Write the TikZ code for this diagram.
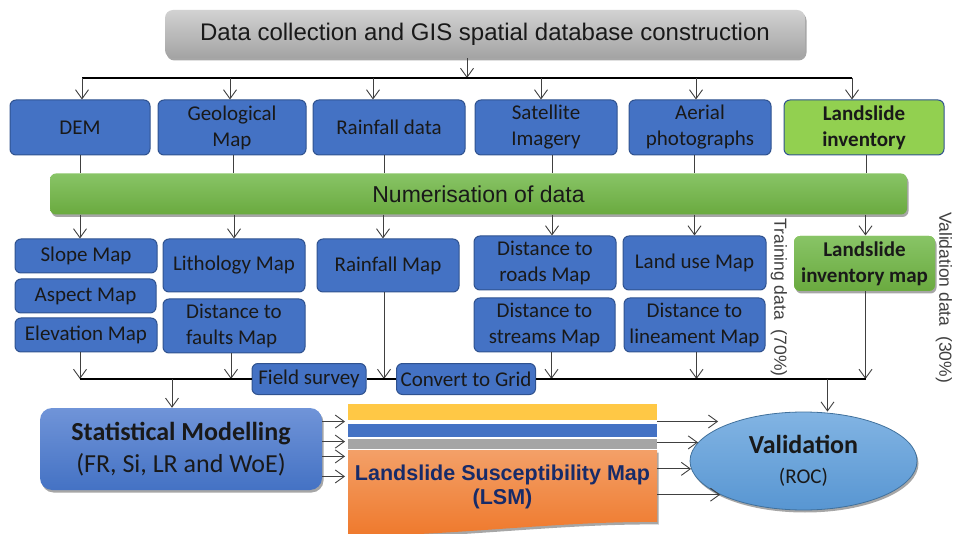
\documentclass[tikz,border=0pt]{standalone}
\usepackage{fontspec}
\setmainfont{Carlito}
\newfontfamily\arialfont{Liberation Sans}
\usetikzlibrary{arrows.meta,shapes.geometric,shadows,positioning}

\definecolor{boxblue}{HTML}{4472C4}
\definecolor{boxedge}{HTML}{2F528F}
\definecolor{stattop}{HTML}{7094D8}
\definecolor{bargreen}{HTML}{6AAA3F}
\definecolor{bargreenlt}{HTML}{88C466}
\definecolor{invgreen}{HTML}{92D050}
\definecolor{hdrgray}{HTML}{A3A3A3}
\definecolor{hdrgraylt}{HTML}{D2D2D2}
\definecolor{ylw}{HTML}{FFC845}
\definecolor{midgray}{HTML}{A5A5A5}
\definecolor{lsmtop}{HTML}{F3A068}
\definecolor{lsmbot}{HTML}{EF792C}
\definecolor{lsmtext}{HTML}{172B69}
\definecolor{valtop}{HTML}{82B4E3}
\definecolor{valbot}{HTML}{5896D2}
\definecolor{valedge}{HTML}{41719C}

\begin{document}
\begin{tikzpicture}[x=1pt, y=-1pt,
  wh/.style 2 args={minimum width=#1pt, minimum height=#2pt},
  shd/.style={drop shadow={shadow xshift=1.5pt, shadow yshift=-2.5pt, fill=black, opacity=0.35}},
  box/.style={draw=boxedge, line width=1pt, fill=boxblue, rounded corners=6pt, align=center,
    inner sep=1pt, text=black!90, font=\fontsize{21}{26}\selectfont},
  invbox/.style={box, fill=invgreen, font=\fontsize{21}{26}\selectfont\bfseries},
  limbox/.style={invbox, draw=none, top color=bargreenlt, bottom color=bargreen, shd},
  hdr/.style={rounded corners=8pt, top color=hdrgraylt, bottom color=hdrgray, shd,
    text=black!90, font=\arialfont\fontsize{24}{28}\selectfont},
  numbar/.style={rounded corners=6pt, top color=bargreenlt, bottom color=bargreen, shd,
    text=black!90, font=\arialfont\fontsize{23}{27}\selectfont},
  statbox/.style={rounded corners=12pt, top color=stattop, bottom color=boxblue, shd, align=center,
    text=black!90, font=\fontsize{26}{32}\selectfont},
  strip/.style={inner sep=0pt, outer sep=0pt},
  valnode/.style={ellipse, draw=valedge, line width=0.8pt, top color=valtop, bottom color=valbot, shd,
    align=center, inner sep=1pt, text=black!90, font=\fontsize{26}{30}\selectfont},
  sidelbl/.style={text=black!75, font=\arialfont\fontsize{17.5}{20}\selectfont},
  arr/.style={draw=black!75, line width=0.9pt, -{Straight Barb[length=9pt,width=13pt]}},
  ln/.style={draw=black!75, line width=0.9pt},
  bus/.style={draw=black, line width=1.6pt}]
\useasboundingbox (0,0) rectangle (958,534);

\node[hdr, wh={640}{48}] (hdr) at (485,34) {Data collection and GIS spatial database construction};

\node[box, wh={140}{55}] (dem) at (80,127.5) {DEM};
\node[box, wh={148}{55}] (geo) at (232,127.5) {Geological\\Map};
\node[box, wh={152}{55}] (rain) at (389,127.5) {Rainfall data};
\node[box, wh={142}{55}] (sat) at (546,127.5) {Satellite\\Imagery};
\node[box, wh={142}{55}] (aer) at (700,127.5) {Aerial\\photographs};
\node[invbox, wh={160}{55}] (inv) at (864,127.5) {Landslide\\inventory};

\node[numbar, wh={857}{41}] (num) at (478.5,194) {Numerisation of data};

\node[box, wh={142}{34}] (slope) at (86,256) {Slope Map};
\node[box, wh={141}{34}] (aspect) at (85.5,296) {Aspect Map};
\node[box, wh={142}{34}] (elev) at (86,335) {Elevation Map};
\node[box, wh={142}{53}] (litho) at (234,265.5) {Lithology Map};
\node[box, wh={142}{54}, align=left] (faults) at (234,326) {Distance to\\faults Map};
\node[box, wh={142}{53}] (rmap) at (388,265.5) {Rainfall Map};
\node[box, wh={142}{54}] (roads) at (545,263) {Distance to\\roads Map};
\node[box, wh={141}{54}] (streams) at (544.5,325) {Distance to\\streams Map};
\node[box, wh={143}{54}] (luse) at (694.5,263) {Land use Map};
\node[box, wh={141}{54}] (lineam) at (694.5,325) {Distance to\\lineament Map};
\node[limbox, wh={141}{55}] (lim) at (864.5,263.5) {Landslide\\inventory map};

\node[sidelbl, rotate=-90] (train) at (779,297.5) {Training data \ (70\%)};
\node[sidelbl, rotate=-90] (valid) at (944,297.5) {Validation data \ (30\%)};

\node[box, wh={114}{31}] (field) at (309,379) {Field survey};
\node[box, wh={139}{31}] (conv) at (466,379) {Convert to Grid};

\node[statbox, wh={282}{82}] (stat) at (181,449) {\textbf{Statistical Modelling}\\(FR, Si, LR and WoE)};

\node[strip, fill=ylw, wh={309}{16}] (ylwbar) at (502.5,412) {};
\node[strip, fill=boxblue, wh={309}{13}] (bluebar) at (502.5,430) {};
\node[strip, fill=midgray, wh={309}{10}] (graybar) at (502.5,444) {};
\path[shd, top color=lsmtop, bottom color=lsmbot]
  (348,450) -- (657,450) -- (657,522) .. controls (560,521) and (450,536) .. (348,536) -- cycle;
\node[align=center, text=lsmtext, font=\arialfont\bfseries\fontsize{21.5}{24}\selectfont]
  (lsm) at (502.5,486.5) {Landslide Susceptibility Map\\(LSM)};

\node[valnode, wh={227}{98}] (val) at (803.5,461) {\textbf{Validation}\\{\fontsize{21}{30}\selectfont(ROC)}};

\coordinate (busA) at (467,78);
\coordinate (busB) at (80,379);
\coordinate (busC) at (866,379);

\draw[arr] (hdr.south -| busA) -- (busA);
\draw[bus] ([xshift=2pt]dem.north |- busA) -- ([xshift=-12pt]inv.north |- busA);
\foreach \n/\d in {dem/2,geo/-2,rain/-16,sat/-5,aer/-4,inv/-12}
  \draw[arr] ([xshift=\d pt]\n.north |- busA) -- ([xshift=\d pt]\n.north);

\foreach \n/\d in {dem/0,geo/1,rain/-5,sat/6,aer/-6,inv/2}
  \draw[ln] ([xshift=\d pt]\n.south) -- ([xshift=\d pt]\n.south |- num.north);
\foreach \n/\d in {slope/-6,litho/0,rmap/-5,roads/7,luse/0,lim/1}
  \draw[arr] ([xshift=\d pt]\n.north |- num.south) -- ([xshift=\d pt]\n.north);

\foreach \n/\d in {elev/-6,faults/-3,rmap/-4,streams/7,lineam/2,lim/1}
  \draw[arr] ([xshift=\d pt]\n.south) -- ([xshift=\d pt]\n.south |- busB);
\draw[bus, line width=1.3pt] (busB) -- (field);
\draw[bus, line width=1.3pt] (field) -- (conv);
\draw[bus, line width=1.3pt] (conv) -- (busC);

\draw[arr] ([xshift=-9pt]stat.north |- busB) -- ([xshift=-9pt]stat.north);
\draw[arr] ([xshift=24pt]val.north |- busB) -- ([xshift=24pt]val.north);

\foreach \a in {11,3,-3,-11}
  \draw[arr, shorten >=3pt] (stat.\a) -- (stat.\a -| ylwbar.west);

\draw[arr, shorten >=17pt] (ylwbar.east |- val.150) -- (val.150);
\foreach \a in {170,184,202}
  \draw[arr] (ylwbar.east |- val.\a) -- (val.\a);
\end{tikzpicture}
\end{document}
